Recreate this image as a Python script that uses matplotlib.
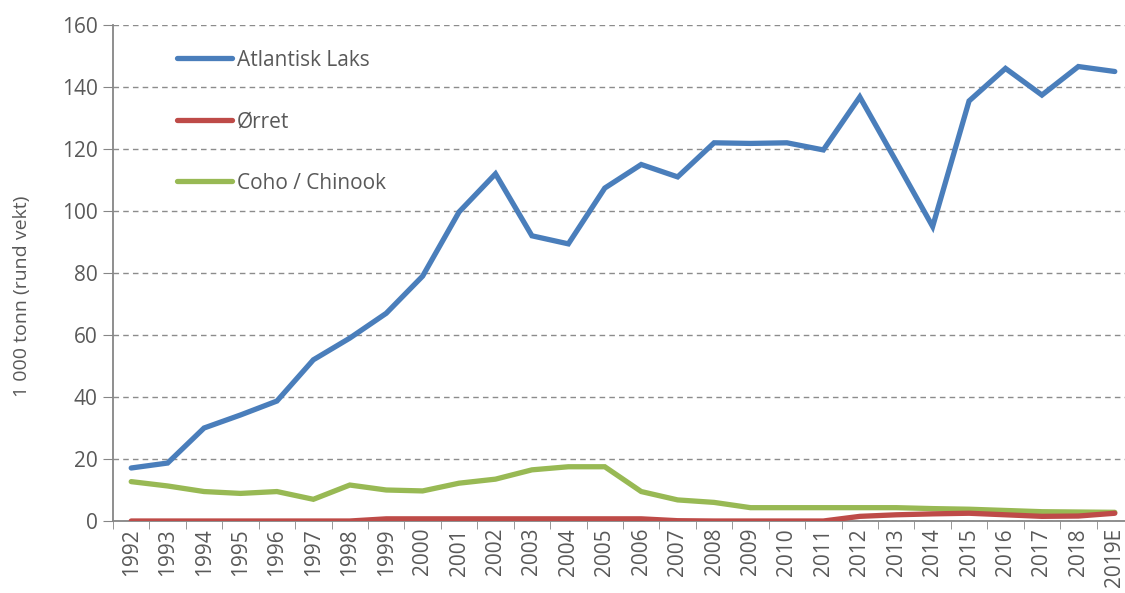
import matplotlib
matplotlib.use("Agg")
import matplotlib.pyplot as plt
import numpy as np

years = [str(y) for y in range(1992, 2019)] + ["2019E"]

laks = [17.1, 18.7, 30.0, 34.2, 38.7, 52.0, 59.0, 67.0, 79.0, 99.7,
        112.0, 92.0, 89.4, 107.4, 115.0, 111.0, 122.0, 121.8, 122.0, 119.7,
        136.8, 116.0, 95.0, 135.5, 146.0, 137.4, 146.6, 145.0]
orret = [0.0, 0.0, 0.0, 0.0, 0.0, 0.0, 0.0, 0.7, 0.7, 0.7,
         0.7, 0.7, 0.7, 0.7, 0.7, 0.1, 0.0, 0.0, 0.0, 0.0,
         1.5, 2.0, 2.3, 2.5, 2.0, 1.5, 1.6, 2.5]
coho = [12.7, 11.3, 9.5, 8.9, 9.5, 7.0, 11.6, 10.0, 9.7, 12.2,
        13.5, 16.5, 17.5, 17.5, 9.5, 6.8, 6.0, 4.3, 4.3, 4.3,
        4.3, 4.3, 4.0, 3.8, 3.4, 3.0, 2.9, 2.8]

plt.rcParams["font.family"] = ["Open Sans", "DejaVu Sans"]
txt = "#595959"
fs = 15

fig = plt.figure(figsize=(11.25, 5.93), dpi=100)
ax = fig.add_axes([113 / 1125, 1 - 521 / 593, 1020 / 1125, 496 / 593])

x = np.arange(len(years))
lw = 3.8
ax.plot(x, laks, color="#4a7ebb", lw=lw, solid_capstyle="round", solid_joinstyle="miter", label="Atlantisk Laks", zorder=3)
ax.plot(x, orret, color="#be4b48", lw=lw, solid_capstyle="round", solid_joinstyle="miter", label="Ørret", zorder=3)
ax.plot(x, coho, color="#98b954", lw=lw, solid_capstyle="round", solid_joinstyle="miter", label="Coho / Chinook", zorder=2)

ax.set_xlim(-0.5, len(years) - 0.5)
ax.set_ylim(0, 160)
ax.set_yticks(np.arange(0, 161, 20))
ax.set_xticks(np.arange(-0.5, len(years), 1), minor=True)
ax.set_xticks(x)
ax.set_xticklabels(years, rotation=90)
ax.tick_params(axis="x", which="major", length=0, pad=5, labelsize=fs, labelcolor=txt)
ax.tick_params(axis="x", which="minor", length=6, color="#868686", direction="out")
ax.tick_params(axis="y", length=7, color="#868686", labelsize=fs, labelcolor=txt, pad=4)

ax.grid(axis="y", linestyle=(0, (4, 3)), color="#8c8c8c", lw=1)
ax.set_axisbelow(True)
for s in ["top", "right"]:
    ax.spines[s].set_visible(False)
for s in ["left", "bottom"]:
    ax.spines[s].set_color("#868686")
    ax.spines[s].set_linewidth(1.3)

ax.set_ylabel("1 000 tonn (rund vekt)", fontsize=14, color=txt, va="center")
ax.yaxis.set_label_coords(-0.089, 0.454)

leg = ax.legend(loc="upper left", bbox_to_anchor=(158 / 1125, 1 - 31 / 593),
                bbox_transform=fig.transFigure, frameon=False, fontsize=fs,
                handlelength=2.65, handletextpad=0.25, labelspacing=1.94,
                labelcolor=txt)

fig.savefig("out.png", dpi=100)
